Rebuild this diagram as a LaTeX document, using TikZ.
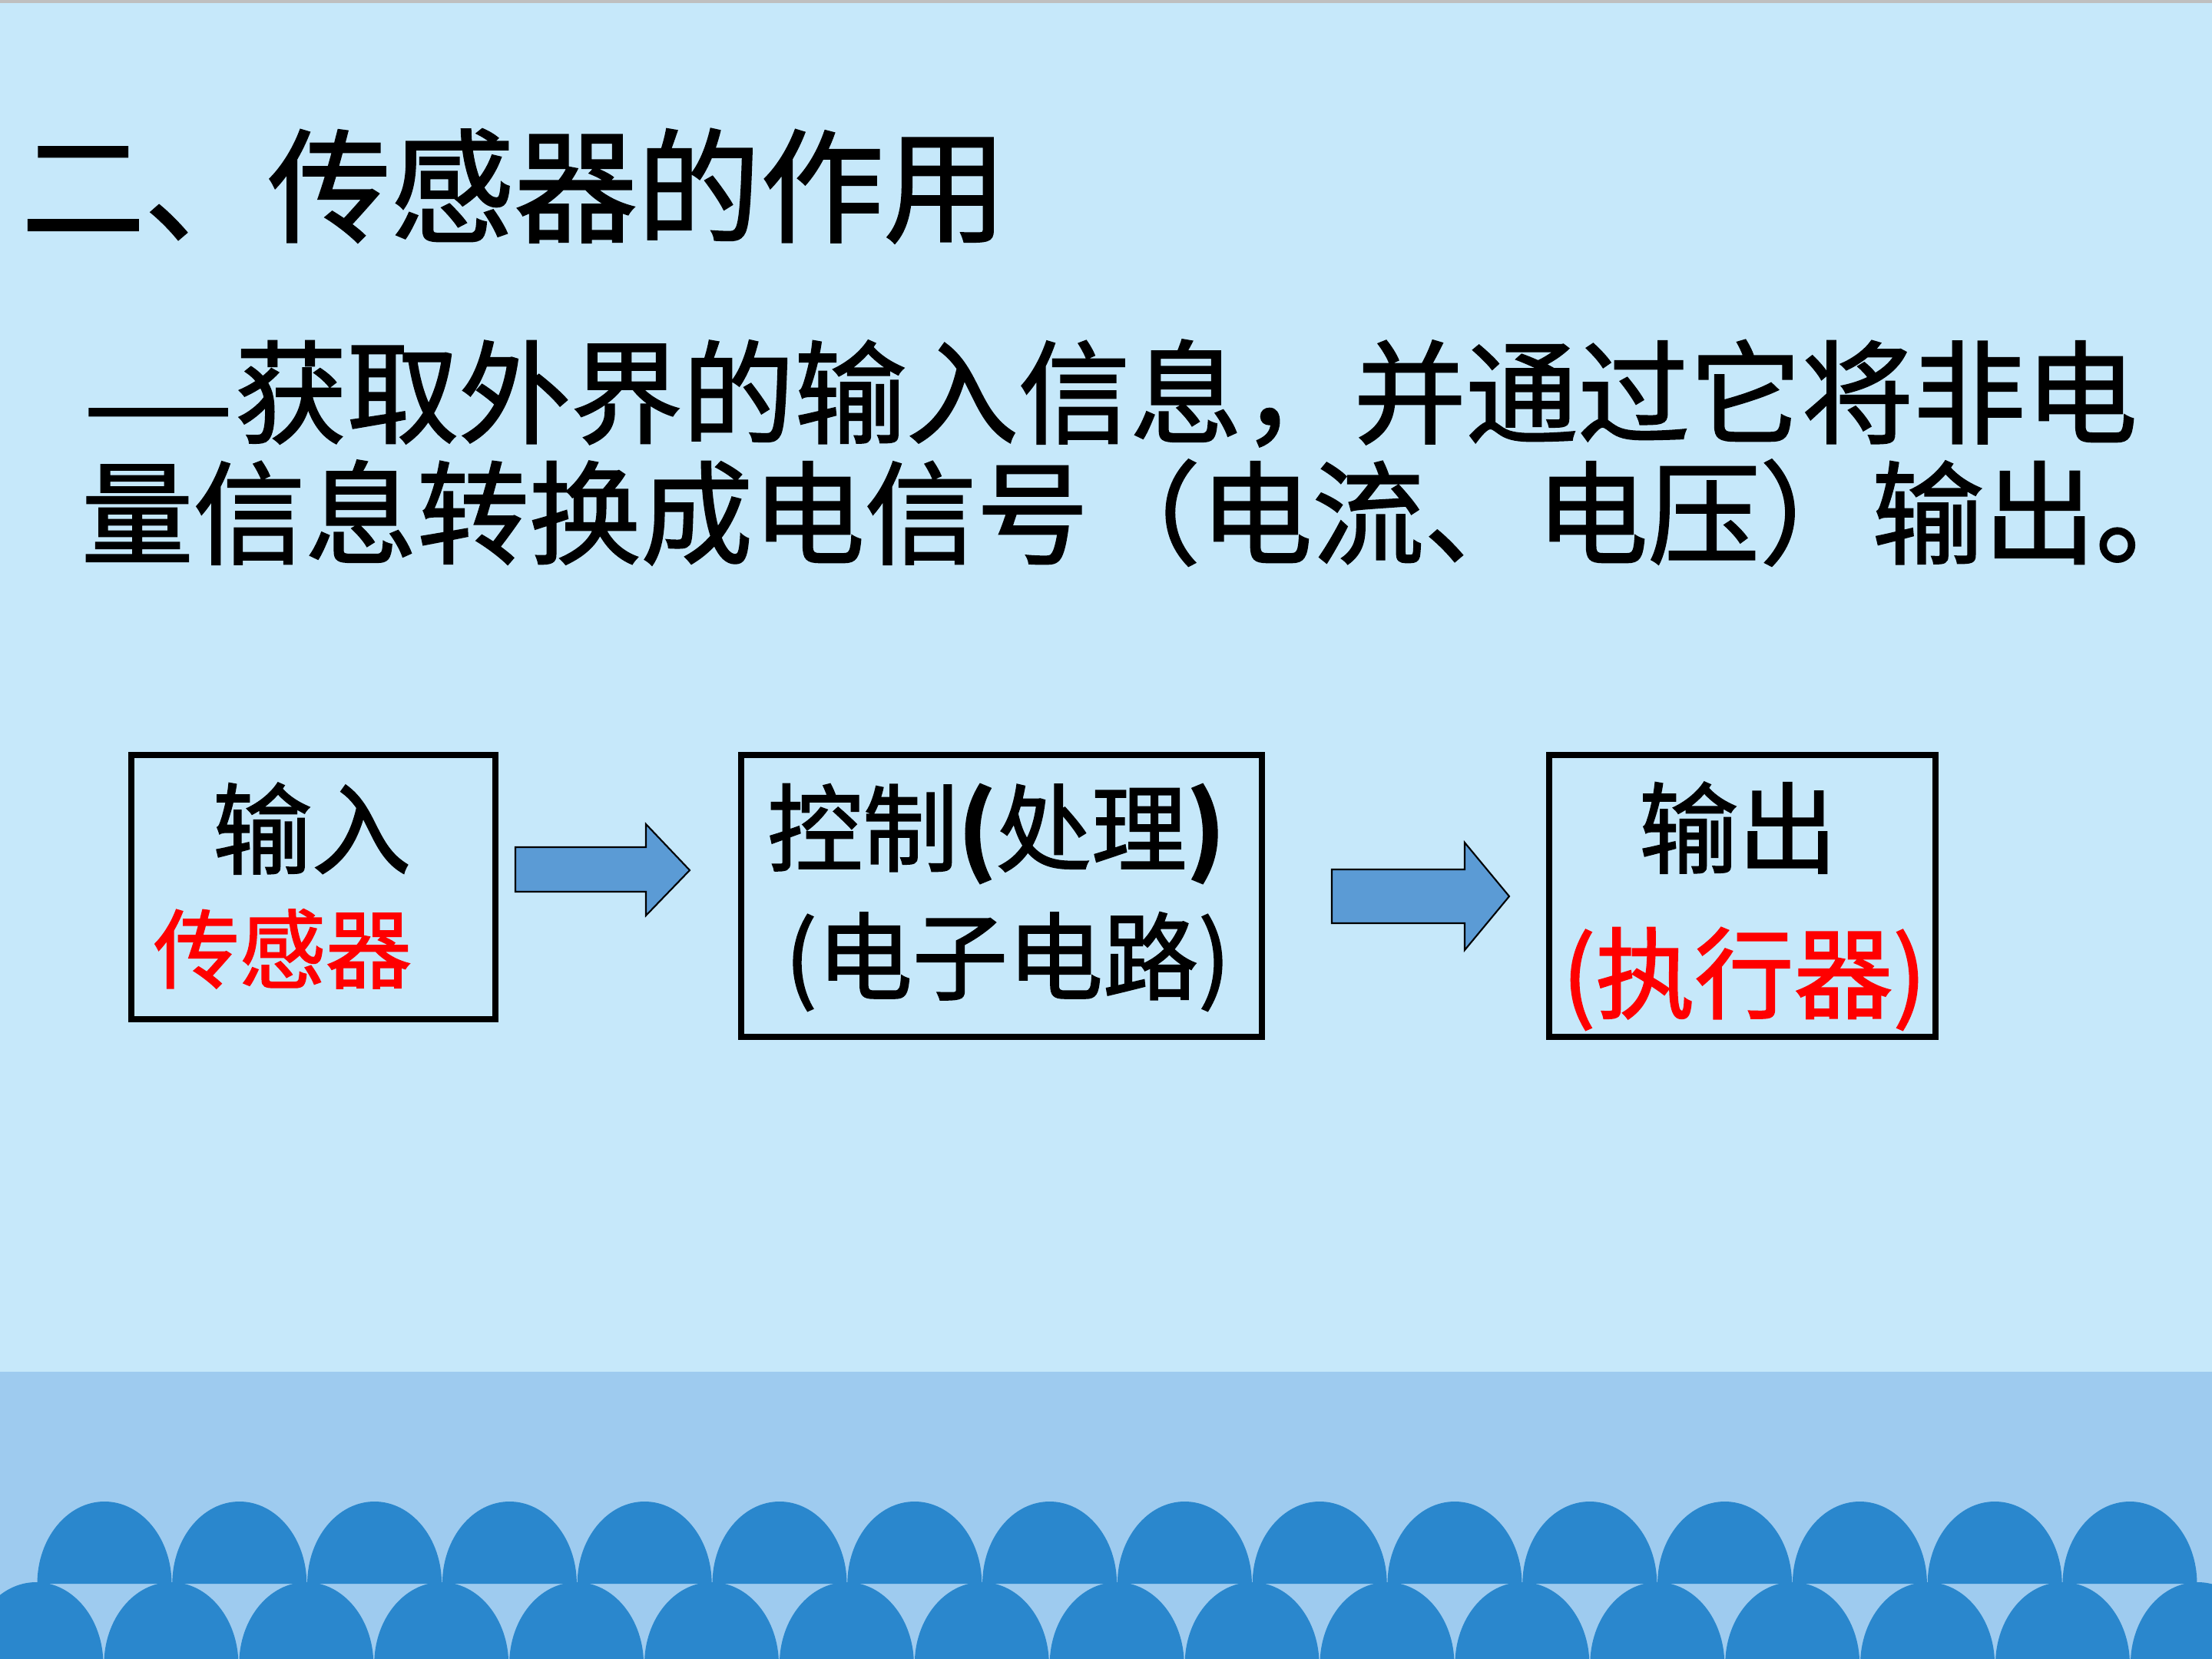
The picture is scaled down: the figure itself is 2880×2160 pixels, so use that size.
\documentclass[tikz,border=0pt]{standalone}
\usepackage{fontspec}
\usepackage{graphicx}
\setmainfont{Noto Sans CJK SC}[FakeBold=1.5]
\definecolor{bgtop}{HTML}{C6E8FA}
\definecolor{bgband}{HTML}{9ECBEF}
\definecolor{domeblue}{HTML}{2A87CD}
\definecolor{arrowblue}{HTML}{5B9BD5}
\definecolor{topgray}{HTML}{BFBFBF}
\definecolor{txtred}{HTML}{FF0000}
\tikzset{
  boxframe/.style={draw=black, line width=2.28pt, inner sep=0pt, outer sep=0pt, fill=none},
  txt/.style={inner sep=0pt, outer sep=0pt, text=black},
  redtxt/.style={inner sep=0pt, outer sep=0pt, text=txtred},
  blockarrow/.style={fill=arrowblue, draw=black, line width=0.6pt, line join=miter},
  dome/.style={fill=domeblue},
}
\begin{document}
\begin{tikzpicture}[x=0.01cm,y=-0.01cm]
\useasboundingbox (0,0) rectangle (2880,2160);
\clip (0,0) rectangle (2880,2160);
% background
\fill[bgtop] (0,0) rectangle (2880,1786);
\fill[bgband] (0,1786) rectangle (2880,2160);
\fill[topgray] (0,0) rectangle (2880,4);
% waves: upper row
\foreach \k in {0,...,15}{
  \pgfmathsetmacro\cx{136+175.8*\k}
  \fill[dome] (\cx-87.5,2062) arc[start angle=180,end angle=360,x radius=87.5,y radius=107] -- cycle;
}
% waves: lower row
\foreach \k in {0,...,16}{
  \pgfmathsetmacro\cx{47+175.9*\k}
  \fill[dome] (\cx-87.5,2220) -- (\cx-87.5,2167) arc[start angle=180,end angle=360,x radius=87.5,y radius=107] -- (\cx+87.5,2220) -- cycle;
}
% title and text
\node[txt, anchor=base west] (title) at (28,303) {\fontsize{45.6pt}{50pt}\selectfont 二、传感器的作用};
\node[txt, anchor=base west] (dash) at (111,566) {\fontsize{41.43pt}{46pt}\selectfont\raisebox{-0.08em}{\resizebox{1.90cm}{\height}{——}}};
\node[txt, anchor=base west] (line2) at (306,566) {\fontsize{41.43pt}{46pt}\selectfont 获取外界的输入信息，并通过它将非电};
\node[txt, anchor=base west] (line3) at (106,723) {\fontsize{41.43pt}{46pt}\selectfont 量信息转换成电信号（电流、电压）输出。};
% boxes
\node[boxframe, minimum width=4.74cm, minimum height=3.44cm] (b1) at (408,1155) {};
\node[boxframe, minimum width=6.78cm, minimum height=3.67cm] (b2) at (1304,1166.5) {};
\node[boxframe, minimum width=5.03cm, minimum height=3.67cm] (b3) at (2268.5,1166.5) {};
% box texts
\node[txt, anchor=base] (t1a) at (406,1128) {\fontsize{36.7pt}{40pt}\selectfont 输入};
\node[redtxt, anchor=base] (t1b) at (368,1278) {\fontsize{31.87pt}{36pt}\selectfont 传感器};
\node[txt, anchor=base] (t2a) at (1297,1125) {\fontsize{35.28pt}{40pt}\selectfont 控制\textbf{(}处理\textbf{)}};
\node[txt, anchor=base] (t2b) at (1312,1292) {\fontsize{35.28pt}{40pt}\selectfont (电子电路)};
\node[txt, anchor=base] (t3a) at (2263,1127) {\fontsize{36.7pt}{40pt}\selectfont 输出};
\node[redtxt, anchor=base] (t3b) at (2271,1316) {\fontsize{36.7pt}{40pt}\selectfont (执行器)};
% block arrows
\draw[blockarrow] (671,1103) -- (841,1103) -- (841,1073) -- (898,1133) -- (841,1192) -- (841,1161) -- (671,1161) -- cycle;
\draw[blockarrow] (1734,1132) -- (1907,1132) -- (1907,1097) -- (1965,1167) -- (1907,1237) -- (1907,1202) -- (1734,1202) -- cycle;
\end{tikzpicture}
\end{document}
